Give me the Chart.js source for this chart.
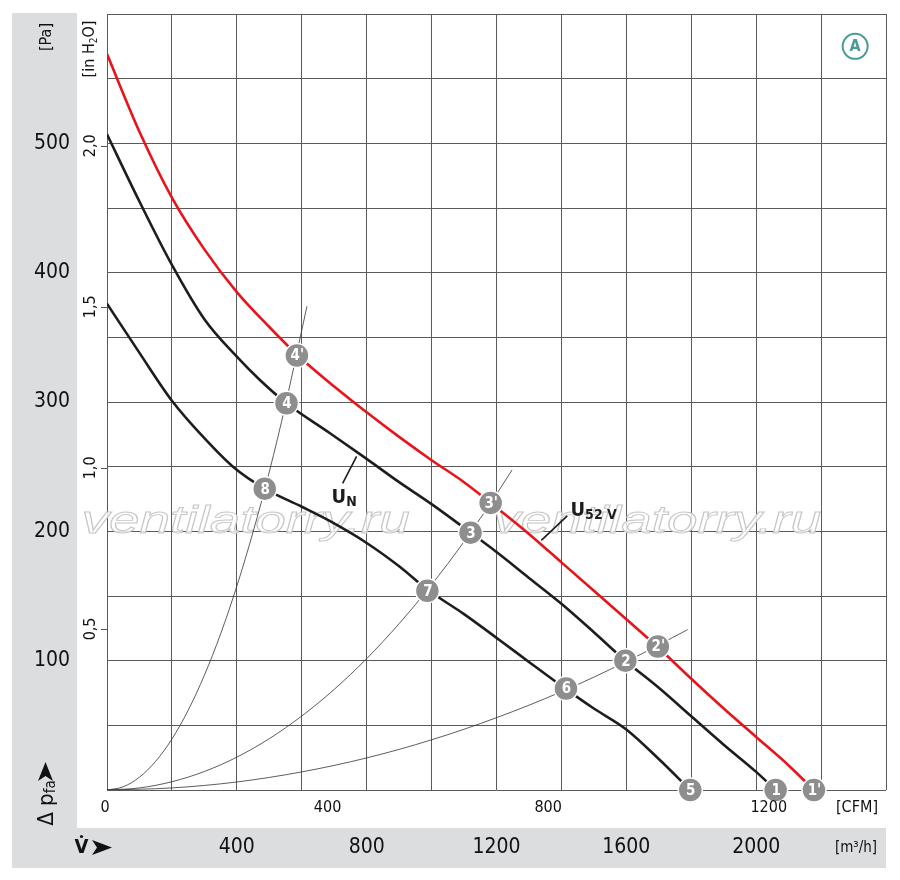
<!DOCTYPE html>
<html>
<head>
<meta charset="utf-8">
<script src="https://cdn.jsdelivr.net/npm/chart.js@4.4.0/dist/chart.umd.min.js"></script>
<style>
  html, body { margin: 0; padding: 0; background: #fff; }
  #wrap { width: 900px; height: 880px; }
</style>
</head>
<body>
<div id="wrap"><canvas id="fanChart" width="900" height="880"></canvas></div>
<script>
const FLOW_MAX = 2400;
const PA_MAX = 600;
const PA_PER_INH2O = 249.09;
const M3H_PER_CFM = 1.699;
const NARROW = '"Liberation Sans Narrow", "DejaVu Sans Condensed", "Arial Narrow", sans-serif';

// ── Tick labels ───────────────────────────────────────────────────────────────
const paTicks = [100, 200, 300, 400, 500];
const inH2OTicks = [0.5, 1.0, 1.5, 2.0];
const inH2OLabels = ['0,5', '1,0', '1,5', '2,0'];
const cfmTicks = [0, 400, 800, 1200];
const m3hTicks = [400, 800, 1200, 1600, 2000];

// ── Fan curves (m³/h, Pa) ────────────────────────────────────────────────────
const redFlow = [0, 100, 200, 300, 400, 500, 588, 700, 800, 900, 1000, 1100, 1182, 1300, 1400, 1500, 1600, 1695, 1800, 1900, 2000, 2100, 2178];
const redPa   = [569, 509, 458, 418, 385, 358, 336, 312, 292, 273, 255, 238, 222, 198, 176, 154, 132, 111, 86, 63, 41, 19, 0];

const unFlow = [0, 100, 200, 300, 400, 471, 553, 686, 800, 900, 1000, 1120, 1200, 1300, 1400, 1500, 1597, 1700, 1800, 1900, 2000, 2060];
const unPa   = [507, 455, 406, 364, 335, 317, 299, 276, 256, 238, 221, 199, 184, 164, 144, 122, 100, 79, 57, 35, 14, 0];

const lowFlow = [0, 100, 200, 300, 388, 486, 600, 686, 800, 900, 987, 1100, 1209, 1300, 1414, 1500, 1599, 1700, 1797];
const lowPa   = [376, 338, 301, 272, 250, 233, 219, 208, 191, 173, 155, 136, 116, 99, 78, 63, 47, 24, 0];

// ── System curves ────────────────────────────────────────────────────────────
const sysAFlow = [0, 50, 100, 150, 200, 250, 300, 350, 400, 450, 500, 550, 616];
const sysAPa   = [0, 2.5, 9.9, 22.2, 39.4, 61.6, 88.7, 120.7, 157.6, 199.5, 246, 298, 374];
const sysBFlow = [0, 100, 200, 300, 400, 500, 600, 700, 800, 900, 1000, 1100, 1200, 1248];
const sysBPa   = [0, 1.6, 6.4, 14.3, 25.4, 39.7, 57.2, 77.8, 101.6, 128.6, 158.8, 192, 228.7, 247.5];
const sysCFlow = [0, 200, 400, 600, 800, 1000, 1200, 1400, 1600, 1789];
const sysCPa   = [0, 1.6, 6.2, 14, 24.8, 38.8, 55.9, 76, 99.3, 124];

// ── Operating points ─────────────────────────────────────────────────────────
const markerLabels = ['1', "1'", '2', "2'", '3', "3'", '4', "4'", '5', '6', '7', '8'];
const markerFlow   = [2060, 2178, 1597, 1697, 1120, 1182, 553, 585, 1797, 1414, 987, 486];
const markerPa     = [0, 0, 100, 111, 199, 222, 299, 336, 0, 78.5, 154, 233];

const toPts = (xs, ys) => xs.map((x, i) => ({ x, y: ys[i] }));

// ── Drawing helpers ──────────────────────────────────────────────────────────
function rotatedText(ctx, parts, cx, cy) {
  // parts are drawn bottom-to-top, centred on cx/cy
  ctx.save();
  ctx.translate(cx, cy);
  ctx.rotate(-Math.PI / 2);
  ctx.textBaseline = 'middle';
  ctx.textAlign = 'left';
  let total = 0;
  parts.forEach(p => { ctx.font = p.font; total += ctx.measureText(p.text).width; });
  let x = -total / 2;
  parts.forEach(p => {
    ctx.font = p.font;
    ctx.fillText(p.text, x, p.dy || 0);
    x += ctx.measureText(p.text).width;
  });
  ctx.restore();
}

function watermark(ctx, x, y) {
  ctx.save();
  ctx.font = `italic 38px "Liberation Sans", Arial, sans-serif`;
  const w = ctx.measureText('ventilatorry.ru').width;
  ctx.translate(x, y);
  ctx.scale(328 / w, 1);
  ctx.fillStyle = 'rgba(255,255,255,0.8)';
  ctx.fillText('ventilatorry.ru', 0, 0);
  ctx.strokeStyle = '#c6c6c6';
  ctx.lineWidth = 0.9;
  ctx.strokeText('ventilatorry.ru', 0, 0);
  ctx.restore();
}

const decorPlugin = {
  id: 'decor',
  beforeDraw(chart) {
    const { ctx } = chart;
    ctx.save();
    ctx.fillStyle = '#fff';
    ctx.fillRect(0, 0, chart.width, chart.height);
    ctx.fillStyle = '#dcdddf';
    ctx.fillRect(12, 13, 65, 855);
    ctx.fillRect(12, 828, 874, 40);
    ctx.restore();
  },
  beforeDatasetsDraw(chart) {
    const { ctx, scales: { x } } = chart;
    watermark(ctx, x.getPixelForValue(-78), 533);
    watermark(ctx, x.getPixelForValue(1190), 533);
  },
  afterDatasetsDraw(chart) {
    const { ctx, scales: { x, y } } = chart;
    ctx.save();
    // marker numbers
    const meta = chart.getDatasetMeta(0);
    ctx.fillStyle = '#fff';
    ctx.font = `bold 15px ${NARROW}`;
    ctx.textAlign = 'center';
    ctx.textBaseline = 'middle';
    meta.data.forEach((pt, i) => ctx.fillText(markerLabels[i], pt.x + 0.5, pt.y + 1));

    // curve labels with leader lines
    ctx.strokeStyle = '#1d1d1b';
    ctx.lineWidth = 1.6;
    ctx.beginPath();
    ctx.moveTo(x.getPixelForValue(726), y.getPixelForValue(237));
    ctx.lineTo(x.getPixelForValue(769), y.getPixelForValue(258));
    ctx.moveTo(x.getPixelForValue(1418), y.getPixelForValue(212));
    ctx.lineTo(x.getPixelForValue(1338), y.getPixelForValue(193));
    ctx.stroke();

    ctx.fillStyle = '#1d1d1b';
    ctx.textAlign = 'left';
    ctx.textBaseline = 'alphabetic';
    let lx = x.getPixelForValue(692), ly = y.getPixelForValue(222);
    ctx.font = `bold 20px ${NARROW}`;
    ctx.fillText('U', lx, ly);
    let uw = ctx.measureText('U').width;
    ctx.font = `bold 14px ${NARROW}`;
    ctx.fillText('N', lx + uw, ly + 3);

    lx = x.getPixelForValue(1428); ly = y.getPixelForValue(212);
    ctx.font = `bold 20px ${NARROW}`;
    ctx.fillText('U', lx, ly);
    uw = ctx.measureText('U').width;
    ctx.font = `bold 14px ${NARROW}`;
    ctx.fillText('52 V', lx + uw, ly + 3);

    // circled A
    const ax = x.getPixelForValue(2305), ay = y.getPixelForValue(575);
    ctx.strokeStyle = '#4b9c97';
    ctx.lineWidth = 2;
    ctx.beginPath();
    ctx.arc(ax, ay, 12.5, 0, Math.PI * 2);
    ctx.stroke();
    ctx.fillStyle = '#4b9c97';
    ctx.font = `bold 16px ${NARROW}`;
    ctx.textAlign = 'center';
    ctx.textBaseline = 'middle';
    ctx.fillText('A', ax, ay + 1);
    ctx.restore();
  },
  afterDraw(chart) {
    const { ctx, scales: { x, y } } = chart;
    ctx.save();
    ctx.fillStyle = '#111';

    // Pa ticks
    ctx.font = `21px ${NARROW}`;
    ctx.textAlign = 'right';
    ctx.textBaseline = 'middle';
    paTicks.forEach(v => ctx.fillText(String(v), 70, y.getPixelForValue(v)));

    // inH2O ticks (rotated) + small tick marks
    ctx.strokeStyle = '#555';
    ctx.lineWidth = 1;
    inH2OTicks.forEach((v, i) => {
      const py = y.getPixelForValue(v * PA_PER_INH2O);
      ctx.beginPath();
      ctx.moveTo(101, Math.round(py) + 0.5);
      ctx.lineTo(107, Math.round(py) + 0.5);
      ctx.stroke();
      rotatedText(ctx, [{ text: inH2OLabels[i], font: `16px ${NARROW}` }], 91, py);
    });

    rotatedText(ctx, [{ text: '[Pa]', font: `16px ${NARROW}` }], 47, 37);
    rotatedText(ctx, [
      { text: '[in H', font: `16px ${NARROW}` },
      { text: '2', font: `10px ${NARROW}`, dy: 4 },
      { text: 'O]', font: `16px ${NARROW}` },
    ], 90, 49);

    // CFM ticks
    ctx.font = `16px ${NARROW}`;
    ctx.textAlign = 'center';
    ctx.textBaseline = 'middle';
    cfmTicks.forEach(v => ctx.fillText(String(v), x.getPixelForValue(v * M3H_PER_CFM) - (v === 0 ? 2 : 0), 808));
    ctx.fillText('[CFM]', 857, 808);

    // m³/h ticks
    ctx.font = `21px ${NARROW}`;
    m3hTicks.forEach(v => ctx.fillText(String(v), x.getPixelForValue(v), 848));
    ctx.font = `15px ${NARROW}`;
    ctx.fillText('[m³/h]', 856, 848);

    // V̇ ➤
    ctx.font = `bold 20px ${NARROW}`;
    ctx.fillText('V', 81.5, 848);
    ctx.beginPath();
    ctx.arc(81.5, 836.5, 1.6, 0, Math.PI * 2);
    ctx.fill();
    ctx.beginPath();
    ctx.moveTo(92, 840); ctx.lineTo(112, 847.5); ctx.lineTo(92, 855); ctx.lineTo(97, 847.5);
    ctx.closePath();
    ctx.fill();

    // Δ p_fa ➤ (rotated)
    rotatedText(ctx, [
      { text: 'Δ p', font: `22px ${NARROW}` },
      { text: 'fa', font: `15px ${NARROW}`, dy: 4 },
    ], 47, 803);
    ctx.beginPath();
    ctx.moveTo(45.5, 762); ctx.lineTo(53, 781); ctx.lineTo(45.5, 776); ctx.lineTo(38, 781);
    ctx.closePath();
    ctx.fill();
    ctx.restore();
  },
};

const lineStyle = (color, width) => ({
  borderColor: color,
  borderWidth: width,
  pointRadius: 0,
  fill: false,
  cubicInterpolationMode: 'monotone',
});

new Chart(document.getElementById('fanChart').getContext('2d'), {
  type: 'line',
  data: {
    datasets: [
      {
        label: 'points',
        type: 'scatter',
        data: toPts(markerFlow, markerPa),
        showLine: false,
        pointRadius: 12,
        pointBackgroundColor: '#8e8e8e',
        pointBorderColor: '#ffffff',
        pointBorderWidth: 1.5,
        clip: false,
        order: 0,
      },
      { label: 'U52V', data: toPts(redFlow, redPa), ...lineStyle('#e8141c', 2.6), order: 1 },
      { label: 'UN', data: toPts(unFlow, unPa), ...lineStyle('#1d1d1b', 2.6), order: 2 },
      { label: 'low', data: toPts(lowFlow, lowPa), ...lineStyle('#1d1d1b', 2.6), order: 3 },
      { label: 'sysA', data: toPts(sysAFlow, sysAPa), ...lineStyle('#333', 0.8), order: 4 },
      { label: 'sysB', data: toPts(sysBFlow, sysBPa), ...lineStyle('#333', 0.8), order: 5 },
      { label: 'sysC', data: toPts(sysCFlow, sysCPa), ...lineStyle('#333', 0.8), order: 6 },
    ],
  },
  plugins: [decorPlugin],
  options: {
    responsive: false,
    devicePixelRatio: 1,
    animation: false,
    events: [],
    layout: { padding: { left: 107, top: 14, right: 14, bottom: 90 } },
    plugins: { legend: { display: false }, tooltip: { enabled: false } },
    scales: {
      x: {
        type: 'linear',
        min: 0,
        max: FLOW_MAX,
        afterFit: s => { s.height = 0; },
        ticks: { display: false, stepSize: 200 },
        grid: { color: '#5a5a5a', lineWidth: 1, drawTicks: false },
        border: { display: false },
      },
      y: {
        type: 'linear',
        min: 0,
        max: PA_MAX,
        afterFit: s => { s.width = 0; },
        ticks: { display: false, stepSize: 50 },
        grid: { color: '#5a5a5a', lineWidth: 1, drawTicks: false },
        border: { display: false },
      },
    },
  },
});
</script>
</body>
</html>
